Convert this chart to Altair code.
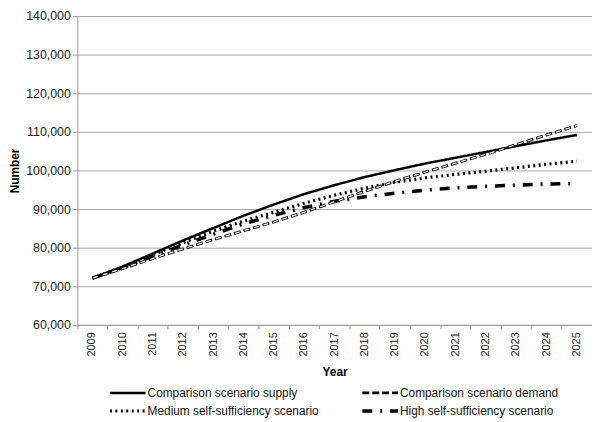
import altair as alt
import pandas as pd

years = [str(y) for y in range(2009, 2026)]
series_names = [
    "Comparison scenario supply",
    "Comparison scenario demand",
    "Medium self-sufficiency scenario",
    "High self-sufficiency scenario",
]
supply = [72100, 75100, 78500, 81900, 85100, 88300, 91200, 93900, 96200, 98300,
          100100, 101800, 103300, 104800, 106300, 107800, 109200]
demand = [72100, 74600, 77200, 79700, 82100, 84400, 86700, 89200, 91900, 94600,
          97200, 99600, 101900, 104200, 106700, 109200, 111600]
medium = [72100, 75000, 78200, 81300, 84300, 86900, 89200, 91500, 93600, 95400,
          97000, 98100, 99000, 99800, 100700, 101600, 102400]
high = [72100, 74800, 77800, 80700, 83500, 86200, 88400, 90400, 92000, 93200,
        94100, 94900, 95500, 95900, 96200, 96500, 96600]

rows = []
for name, vals in zip(series_names, [supply, demand, medium, high]):
    for i, (yr, v) in enumerate(zip(years, vals)):
        rows.append({"Year": yr, "Number": v, "Series": name, "order": i})
df = pd.DataFrame(rows)

FONT = "Liberation Sans"
dashes = [[1, 0], [7, 3], [2, 3.5], [10, 8, 2, 8]]
widths = [2.5, 3.6, 2.0, 2.6]

x_enc = alt.X("Year:O",
              scale=alt.Scale(type="band", paddingInner=0, paddingOuter=0, domain=years),
              axis=alt.Axis(title="Year", labelAngle=270, bandPosition=0, grid=False,
                            domainColor="#9a9a9a", tickColor="#9a9a9a", tickSize=4,
                            labelPadding=3, labelFontSize=11, labelColor="#222",
                            titleFontSize=12, titleFontWeight="bold", titlePadding=11,
                            titleColor="#000"))
y_enc = alt.Y("Number:Q",
              scale=alt.Scale(domain=[60000, 140000], nice=False),
              axis=alt.Axis(title="Number", format=",.0f", values=list(range(60000, 140001, 10000)),
                            gridColor="#a8a8a8", gridWidth=1, domainColor="#9a9a9a",
                            tickColor="#9a9a9a", tickSize=5, labelPadding=2,
                            labelFontSize=12.5, labelColor="#222", titleFontSize=12,
                            titleFontWeight="bold", titlePadding=4, titleColor="#000"))

legend = alt.Legend(orient="none", legendX=31, legendY=373, columns=2, direction="horizontal",
                    columnPadding=35, rowPadding=4, title=None,
                    symbolType="M-1,0H5", symbolSize=144,
                    symbolStrokeWidth=2.5, labelFontSize=12,
                    labelColor="#111", labelOffset=24, labelLimit=0)

base = alt.Chart(df)

lines = base.mark_line(strokeCap="butt").encode(
    x=x_enc,
    y=y_enc,
    order="order:Q",
    color=alt.Color("Series:N",
                    scale=alt.Scale(domain=series_names, range=["#000"] * 4),
                    legend=legend),
    strokeDash=alt.StrokeDash("Series:N",
                              scale=alt.Scale(domain=series_names, range=dashes),
                              legend=legend),
    strokeWidth=alt.StrokeWidth("Series:N",
                                scale=alt.Scale(domain=series_names, range=widths),
                                legend=None),
)

inner = base.transform_filter(
    alt.datum.Series == series_names[1]
).mark_line(color="white", strokeWidth=1.3, strokeDash=[5, 5], strokeDashOffset=9,
            strokeCap="butt").encode(x=x_enc, y=y_enc, order="order:Q")

chart = alt.layer(lines, inner).properties(
    width=520, height=312, padding=0
).configure(font=FONT).configure_view(stroke=None)

chart.save("out.html", embed_options={"renderer": "svg", "actions": False})
